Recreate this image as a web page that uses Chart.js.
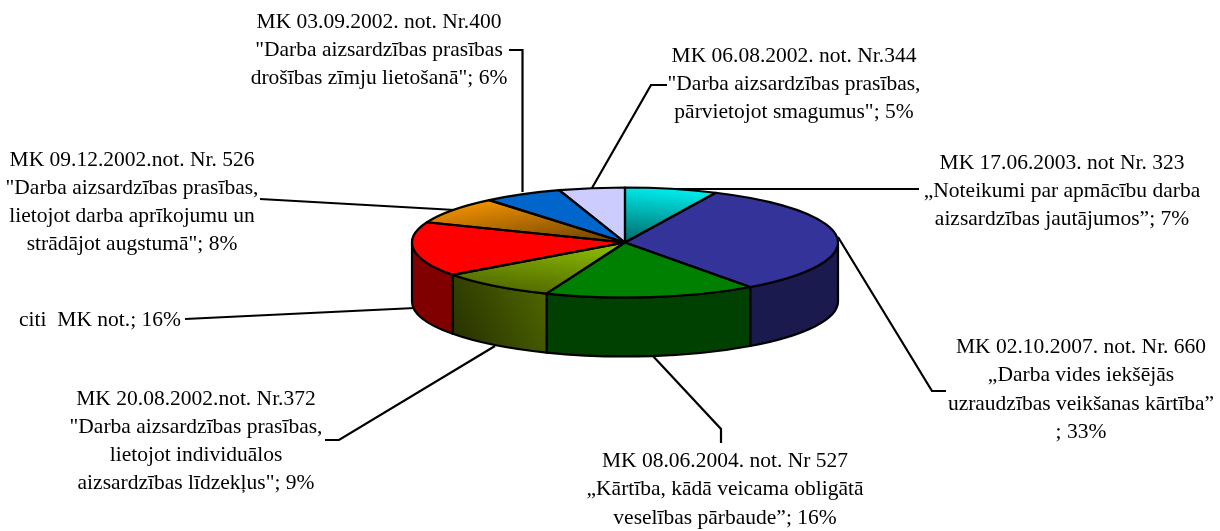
<!DOCTYPE html>
<html><head><meta charset="utf-8">
<style>html,body{margin:0;padding:0;background:#fff}canvas{display:block}</style>
<script src="https://cdn.jsdelivr.net/npm/chart.js@4"></script>
</head><body><canvas id="c" width="1220" height="531"></canvas>
<script>
const categories = ["MK 17.06.2003","MK 02.10.2007","MK 08.06.2004","MK 20.08.2002","citi MK not.","MK 09.12.2002","MK 03.09.2002","MK 06.08.2002"];
const values = [7,33,16,9,16,8,6,5];
const labelLines = [
 ["MK 17.06.2003. not Nr. 323","„Noteikumi par apmācību darba","aizsardzības jautājumos”; 7%"],
 ["MK 02.10.2007. not. Nr. 660","„Darba vides iekšējās","uzraudzības veikšanas kārtība”","; 33%"],
 ["MK 08.06.2004. not. Nr 527","„Kārtība, kādā veicama obligātā","veselības pārbaude”; 16%"],
 ["MK 20.08.2002.not. Nr.372","\"Darba aizsardzības prasības,","lietojot individuālos","aizsardzības līdzekļus\"; 9%"],
 ["citi  MK not.; 16%"],
 ["MK 09.12.2002.not. Nr. 526","\"Darba aizsardzības prasības,","lietojot darba aprīkojumu un","strādājot augstumā\"; 8%"],
 ["MK 03.09.2002. not. Nr.400","\"Darba aizsardzības prasības","drošības zīmju lietošanā\"; 6%"],
 ["MK 06.08.2002. not. Nr.344","\"Darba aizsardzības prasības,","pārvietojot smagumus\"; 5%"]
];
// layout (not data)
const labelPos = [[1062,163],[1081,347.5],[725,461.5],[196,399],[100,320],[132,160],[379,22],[794,56]];
const lineGap = 28.2;
const leaders = [
 [[919,189],[640,189]],
 [[946,391],[932,391],[838,237]],
 [[721,443],[721,429],[652,355]],
 [[325,440],[339,440],[495,346]],
 [[185,319],[415,308]],
 [[260,199],[455,210]],
 [[509,50],[522.5,50],[522.5,192]],
 [[667,85],[651,85],[592,188]]
];
const CY = 242.5, RX = 213, RY = 55, DEPTH = 59, tilt = RY/RX;
const ctx0 = document.getElementById('c').getContext('2d');
const sy = y => CY + (y-CY)/tilt;
function grad(x0,y0,x1,y1,a,b,flat){
  const g = ctx0.createLinearGradient(x0, flat?y0:sy(y0), x1, flat?y1:sy(y1));
  g.addColorStop(0,a); g.addColorStop(1,b); return g;
}
const topColors = [
 grad(615,245,695,183,'#005f5f','#00ffff'),
 '#333399','#008000',
 grad(480,295,600,232,'#4a6000','#99cc00'),
 '#ff0000',
 grad(478,195,605,250,'#ff9900','#5a3800'),
 '#0066cc','#ccccff'
];
const sideColors = [
 '#006060','#1a1a4f','#004000',
 grad(455,350,550,300,'#262f00','#4d6600',true),
 '#800000','#804c00','#003366','#66667f'
];
const pie3d = {
 id:'pie3d',
 beforeDatasetsDraw(chart){
  const c = chart.ctx, els = chart.getDatasetMeta(0).data, a0 = els[0];
  const cx = a0.x, cy = a0.y, r = a0.outerRadius, ry = r*tilt;
  c.save();
  c.strokeStyle='#000'; c.lineWidth=2.2; c.lineCap='butt'; c.lineJoin='miter';
  leaders.forEach(pts=>{ c.beginPath(); pts.forEach((p,i)=> i?c.lineTo(p[0],p[1]):c.moveTo(p[0],p[1])); c.stroke(); });
  c.lineJoin='round';
  els.forEach((el,i)=>{
    const a=Math.max(el.startAngle,0), b=Math.min(el.endAngle,Math.PI);
    if(b<=a) return;
    c.beginPath();
    c.ellipse(cx,cy,r,ry,0,a,b);
    c.ellipse(cx,cy+DEPTH,r,ry,0,b,a,true);
    c.closePath();
    c.fillStyle=sideColors[i]; c.fill(); c.stroke();
  });
  c.restore();
  c.save();
  c.translate(0,cy); c.scale(1,tilt); c.translate(0,-cy);
 },
 afterDatasetsDraw(chart){
  const c = chart.ctx, els = chart.getDatasetMeta(0).data;
  c.restore();
  c.save();
  c.strokeStyle='#000'; c.lineWidth=2.2; c.lineJoin='round';
  els.forEach(el=>{
    c.beginPath(); c.moveTo(el.x,el.y);
    c.ellipse(el.x,el.y,el.outerRadius,el.outerRadius*tilt,0,el.startAngle,el.endAngle);
    c.closePath(); c.stroke();
  });
  c.fillStyle='#000'; c.font='21.5px "Liberation Serif"'; c.textAlign='center'; c.textBaseline='middle';
  labelLines.forEach((ls,i)=>ls.forEach((t,j)=>c.fillText(t,labelPos[i][0],labelPos[i][1]+j*lineGap)));
  c.restore();
 }
};
new Chart(ctx0,{
 type:'pie',
 data:{labels:categories,datasets:[{data:values,backgroundColor:topColors,borderWidth:0,radius:RX}]},
 options:{responsive:false,animation:false,events:[],
  layout:{padding:{left:30,right:0,top:0,bottom:46}},
  plugins:{legend:{display:false},tooltip:{enabled:false},title:{display:false}}},
 plugins:[pie3d]
});
</script></body></html>
